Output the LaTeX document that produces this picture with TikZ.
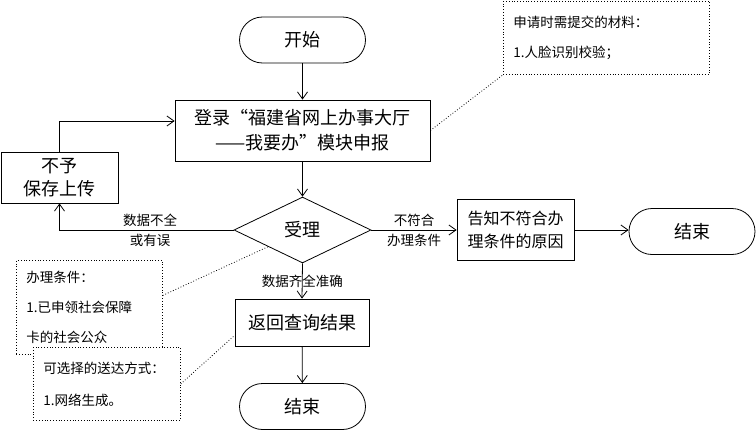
\documentclass[tikz,border=0pt]{standalone}
\usepackage{fontspec}
\setmainfont{Noto Sans CJK SC}
\usepackage{tikz}
\usetikzlibrary{arrows.meta}
\usetikzlibrary{shapes.geometric}

\begin{document}
\begin{tikzpicture}[x=1pt,y=-1pt,line width=0.8pt,>={Straight Barb[length=7pt,width=10pt]},
    big/.style={font=\fontsize{18}{25}\selectfont},
    small/.style={font=\fontsize{13.5}{17}\selectfont},
    term/.style={draw,big,rounded corners=23pt,minimum width=126pt,minimum height=46pt},
    box/.style={draw,big,align=center},
    note/.style={draw,dotted,fill=white,small,font=\fontsize{13.5}{30}\selectfont,align=left,
      inner xsep=10pt,anchor=north west}]
    \useasboundingbox (0,0) rectangle (756,431);
    \node[term] (start) at (302.5,40) {开始};
    \node[box,minimum width=255pt,minimum height=61pt] (login) at (302.5,130.5)
      {登录“福建省网上办事大厅\\——我要办”模块申报};
    \node[draw,diamond,big,minimum width=137pt,minimum height=61pt] (accept) at (302.5,230) {受理};
    \node[box,minimum width=117pt,minimum height=51pt,font=\fontsize{18}{23}\selectfont] (nosave) at (59.5,177.5)
      {不予\\保存上传};
    \node[box,minimum width=117pt,minimum height=61pt,font=\fontsize{16}{23}\selectfont] (tell) at (515.5,230)
      {告知不符合办\\理条件的原因};
    \node[term] (endR) at (692,231.5) {结束};
    \node[box,minimum width=134pt,minimum height=47pt] (result) at (302,322.5) {返回查询结果};
    \node[term] (endB) at (302.5,406.5) {结束};
    \node[note,text width=186pt,minimum height=73pt] (need) at (503,1)
      {申请时需提交的材料：\\1.人脸识别校验；};
    \node[note,text width=126pt,minimum height=94pt] (cond) at (16,260)
      {办理条件：\\1.已申领社会保障\\卡的社会公众};
    \node[note,text width=127pt,minimum height=73pt,font=\fontsize{13.5}{32}\selectfont] (deliver) at (33,347)
      {可选择的送达方式：\\1.网络生成。};
    \draw[->] (start) -- (login);
    \draw[->] (login) -- (accept);
    \draw[->] (accept.west) -| node[pos=0.24,above,small] (lblA) {数据不全}
      node[pos=0.24,below,small] (lblB) {或有误} (nosave.south);
    \draw[->] (nosave.north) |- ([yshift=9.5pt]login.west);
    \draw[->] (accept.east) -- node[above,small] (lblC) {不符合}
      node[below,small] (lblD) {办理条件} (tell.west);
    \draw[->] (tell.east) -- (tell.east -| endR.west);
    \draw[->] (accept.south) -- node[small] (lblE) {数据齐全准确} (result.north);
    \draw[->] (result) -- (endB);
    \draw[dotted] (login.east) -- (need.south west);
    \draw[dotted] ([yshift=12pt]cond.east) -- (accept.south west);
    \draw[dotted] (deliver.east) -- ([yshift=11pt]result.south west);
  \end{tikzpicture}
\end{document}
